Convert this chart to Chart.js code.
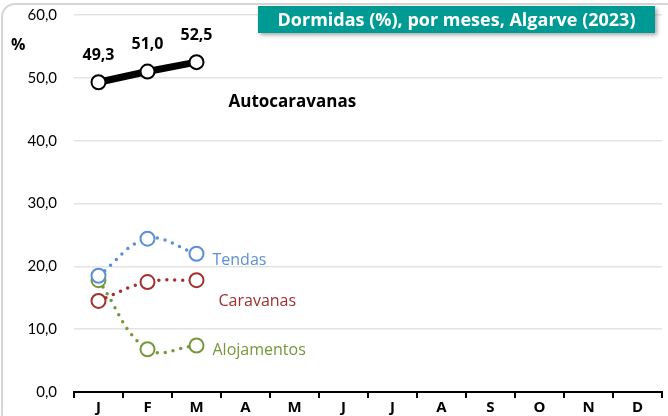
<!DOCTYPE html>
<html>
<head>
<meta charset="utf-8">
<script src="https://cdn.jsdelivr.net/npm/chart.js@4"></script>
<style>
  html, body { margin: 0; padding: 0; background: #fff; }
  body { width: 668px; height: 416px; position: relative; overflow: hidden; font-family: "Open Sans", sans-serif; }
  #frame { position: absolute; left: 1px; top: 3px; right: -12px; bottom: -12px; border: 2px solid #d6d6d6; border-radius: 14px; }
  #title { position: absolute; left: 258px; top: 6px; width: 397px; height: 27px; background: #009a94;
    color: #fff; font-weight: bold; font-size: 18px; line-height: 27px; text-align: center;
    box-shadow: 2px 2px 4px rgba(0,0,0,0.35); }
  #pct { position: absolute; left: 11px; top: 33px; font-weight: bold; font-size: 16px; color: #000; }
  #wrap { position: absolute; left: 0; top: 0; width: 668px; height: 416px; }
</style>
</head>
<body>
<div id="frame"></div>
<div id="wrap"><canvas id="c"></canvas></div>
<div id="title">Dormidas (%), por meses, Algarve (2023)</div>
<div id="pct">%</div>
<script>
// DATA
let months = ["J", "F", "M", "A", "M", "J", "J", "A", "S", "O", "N", "D"];
let autocaravanas = [49.3, 51.0, 52.5];
let tendas = [18.5, 24.4, 22.0];
let caravanas = [14.5, 17.5, 17.8];
let alojamentos = [17.8, 6.8, 7.4];
let yTicks = [0, 10, 20, 30, 40, 50, 60];

let fmt = v => v.toFixed(1).replace(".", ",");

// series label + colour
let seriesInfo = [
  { name: "Autocaravanas", data: autocaravanas, color: "#000000", text: "#000000", bold: true, size: 17, dx: 32, dy: 40 },
  { name: "Tendas", data: tendas, color: "#5b8fd8", text: "#5b8fd8", size: 16, dx: 16, dy: 7 },
  { name: "Caravanas", data: caravanas, color: "#a3302e", text: "#a3302e", size: 16, dx: 22, dy: 21 },
  { name: "Alojamentos", data: alojamentos, color: "#74983a", text: "#74983a", size: 16, dx: 16, dy: 5 }
];

let datasets = seriesInfo.map((s, i) => ({
  label: s.name,
  data: s.data,
  borderColor: s.color,
  backgroundColor: "#ffffff",
  borderWidth: i === 0 ? 7 : 3.5,
  borderDash: i === 0 ? [] : [0, 8],
  borderCapStyle: "round",
  tension: i === 0 ? 0 : 0.4,
  pointRadius: 7,
  pointBorderWidth: 2,
  pointBorderColor: i === 0 ? "#000" : s.color,
  pointBackgroundColor: "#fff",
  order: i === 0 ? 0 : i
}));

// LABELS
let labelPlugin = {
  id: "labels",
  afterDatasetsDraw(chart) {
    let ctx = chart.ctx;
    ctx.save();
    ctx.textBaseline = "middle";
    seriesInfo.forEach((s, i) => {
      let meta = chart.getDatasetMeta(i);
      let last = meta.data[meta.data.length - 1];
      ctx.fillStyle = s.text;
      ctx.font = (s.bold ? "bold " : "") + s.size + "px 'Open Sans'";
      ctx.textAlign = "left";
      ctx.fillText(s.name, last.x + s.dx, last.y + s.dy);
    });
    // value labels on autocaravanas
    let meta = chart.getDatasetMeta(0);
    ctx.fillStyle = "#000";
    ctx.font = "bold 16px 'Open Sans'";
    ctx.textAlign = "center";
    meta.data.forEach((p, j) => {
      ctx.fillText(fmt(autocaravanas[j]), p.x, p.y - 27);
    });
    ctx.restore();
  }
};

new Chart(document.getElementById("c"), {
  type: "line",
  data: { labels: months, datasets },
  plugins: [labelPlugin],
  options: {
    responsive: true,
    maintainAspectRatio: false,
    animation: false,
    layout: { autoPadding: false, padding: { left: 0, right: 6, top: 15, bottom: 0 } },
    plugins: { legend: { display: false }, tooltip: { enabled: false } },
    scales: {
      x: {
        offset: true,
        grid: { offset: true, drawOnChartArea: false, drawTicks: true, tickLength: 6, color: "#000", lineWidth: 2 },
        border: { display: true, color: "#000", width: 2 },
        ticks: { color: "#000", font: { family: "Open Sans", size: 15, weight: "bold" }, padding: 1 },
        afterFit(scale) { scale.height = 24; }
      },
      y: {
        min: 0, max: 60,
        afterBuildTicks(scale) { scale.ticks = yTicks.map(v => ({ value: v })); },
        grid: { color: "#e3e3e3", lineWidth: 1.5, drawTicks: false },
        border: { display: false },
        ticks: { color: "#000", font: { family: "Lato", size: 15 }, padding: 17, callback: v => fmt(v) },
        afterFit(scale) { scale.width = 74; scale.paddingTop = 0; scale.paddingBottom = 0; }
      }
    }
  }
});
</script>
</body>
</html>
